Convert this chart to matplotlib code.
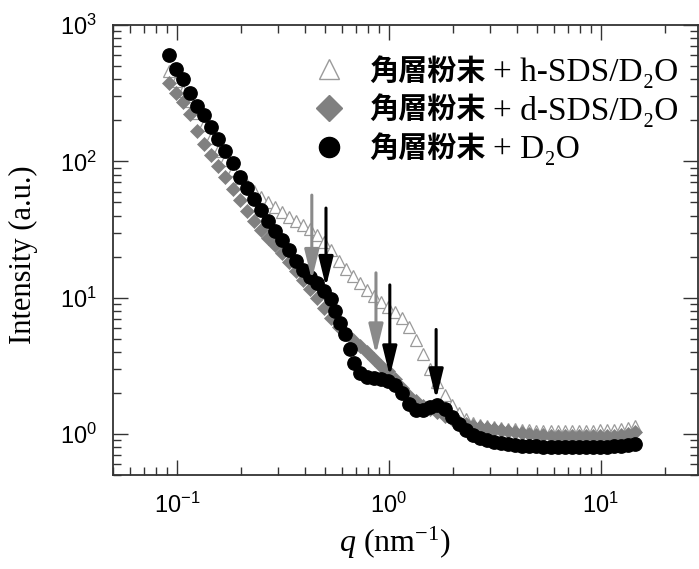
import matplotlib
matplotlib.use("Agg")
import matplotlib.pyplot as plt
from matplotlib.lines import Line2D
from matplotlib.ticker import LogLocator, FuncFormatter, NullFormatter
from matplotlib.font_manager import FontProperties
import numpy as np

plt.rcParams['mathtext.fontset'] = 'custom'
plt.rcParams['mathtext.rm'] = 'Liberation Serif'
plt.rcParams['mathtext.it'] = 'Liberation Serif:italic'
plt.rcParams['mathtext.sf'] = 'Liberation Sans'

# scattering vector q (nm^-1)
q = [0.0917, 0.0990, 0.1069, 0.1155, 0.1247, 0.1346, 0.1454, 0.1570, 0.1695, 0.1830,
     0.1976, 0.2134, 0.2304, 0.2488, 0.2686, 0.2900, 0.3132, 0.3382, 0.3651, 0.3943,
     0.4257, 0.4597, 0.4963, 0.5359, 0.5786, 0.6248, 0.6746, 0.7284, 0.7865, 0.8493,
     0.917, 0.990, 1.069, 1.155, 1.247, 1.346, 1.454, 1.570, 1.695, 1.830,
     1.976, 2.134, 2.304, 2.488, 2.686, 2.900, 3.132, 3.382, 3.651, 3.943,
     4.257, 4.597, 4.963, 5.359, 5.786, 6.248, 6.746, 7.284, 7.865, 8.493,
     9.17, 9.90, 10.69, 11.55, 12.47, 13.46, 14.54]

# stratum corneum powder + h-SDS/D2O
I_h = [462, 390, 330, 279, 228, 186, 147, 120, 102, 85.9,
       75.2, 66.8, 60.4, 54.6, 50.2, 46.2, 42.4, 39.0, 36.5, 34.1,
       31.9, 28.8, 25.6, 22.4, 18.6, 16.3, 14.5, 12.9, 11.4, 10.3,
       9.35, 8.60, 7.78, 7.03, 6.04, 4.86, 3.84, 2.98, 2.40, 1.93,
       1.63, 1.42, 1.29, 1.20, 1.16, 1.14, 1.12, 1.11, 1.09, 1.09,
       1.07, 1.07, 1.06, 1.06, 1.05, 1.05, 1.05, 1.05, 1.06, 1.06,
       1.06, 1.07, 1.07, 1.07, 1.09, 1.11, 1.14]

# stratum corneum powder + d-SDS/D2O
I_d = [377, 319, 274, 224, 168, 135, 111, 92.0, 76.4, 62.5,
       51.9, 43.2, 36.5, 31.4, 27.4, 24.4, 21.3, 18.3, 15.7, 13.5,
       11.6, 10.0, 8.45, 7.14, 6.04, 5.37, 4.86, 4.39, 3.97, 3.53,
       3.14, 2.88, 2.52, 2.17, 1.89, 1.74, 1.60, 1.52, 1.45, 1.35,
       1.29, 1.22, 1.18, 1.14, 1.12, 1.11, 1.09, 1.07, 1.05, 1.03,
       1.02, 1.00, 0.98, 0.98, 0.97, 0.97, 0.97, 0.97, 0.97, 0.97,
       0.97, 0.97, 0.97, 0.97, 0.98, 1.00, 1.03]

# stratum corneum powder + D2O (finer sampling across the steep drop)
q_w = [0.0917, 0.0990, 0.1069, 0.1155, 0.1247, 0.1346, 0.1454, 0.1570, 0.1695, 0.1830,
       0.1976, 0.2134, 0.2304, 0.2488, 0.2686, 0.2900, 0.3132, 0.3382, 0.3651, 0.3943,
       0.4257, 0.4597, 0.4963, 0.5359, 0.556, 0.587, 0.620, 0.655, 0.684,
       0.7284, 0.7865, 0.8493,
       0.917, 0.990, 1.069, 1.155, 1.247, 1.346, 1.454, 1.570, 1.695, 1.830,
       1.976, 2.134, 2.304, 2.488, 2.686, 2.900, 3.132, 3.382, 3.651, 3.943,
       4.257, 4.597, 4.963, 5.359, 5.786, 6.248, 6.746, 7.284, 7.865, 8.493,
       9.17, 9.90, 10.69, 11.55, 12.47, 13.46, 14.54]
I_w = [604, 477, 403, 319, 256, 220, 180, 145, 120, 96.7,
       76.4, 63.5, 52.8, 43.9, 36.5, 30.8, 26.5, 22.4, 18.6, 16.0,
       14.2, 12.7, 11.2, 9.83, 8.04, 6.57, 5.37, 4.17, 3.30,
       2.79, 2.61, 2.56,
       2.52, 2.44, 2.28, 1.99, 1.66, 1.50, 1.50, 1.57, 1.63, 1.52,
       1.33, 1.18, 1.07, 0.98, 0.935, 0.904, 0.874, 0.860, 0.845, 0.830,
       0.82, 0.82, 0.82, 0.80, 0.80, 0.80, 0.80, 0.80, 0.80, 0.80,
       0.80, 0.80, 0.80, 0.82, 0.82, 0.83, 0.845]

sample_name = "角層粉末"
solvents = ["+ h-SDS/D₂O", "+ d-SDS/D₂O", "+ D₂O"]

# peak markers: (q, top of arrow, tip of arrow)
gray_arrows = [(0.433, 56.5, 13.5), (0.869, 15.2, 3.84)]
black_arrows = [(0.505, 45.4, 12.0), (1.01, 12.4, 2.65), (1.67, 5.84, 1.80)]

GRAY = '#808080'
TRI_EDGE = '#9a9a9a'

fig = plt.figure(figsize=(6.99, 5.69), dpi=100)
ax = fig.add_axes([0.1617, 0.1652, 0.8369, 0.7909])

ax.plot(q, I_h, ls='none', marker='^', ms=8.2, mfc='white', mec=TRI_EDGE, mew=0.9, zorder=3)
ax.plot(q, I_d, ls='none', marker='D', ms=7.0, mfc=GRAY, mec=GRAY, mew=0.5, zorder=4)
ax.plot(q_w, I_w, ls='none', marker='o', ms=9.6, mfc='black', mec='black', zorder=5)

arrow_style = '-|>,head_length=0.9,head_width=0.22'
for qa, top, tip in gray_arrows:
    ax.annotate('', xy=(qa, tip), xytext=(qa, top),
                arrowprops=dict(arrowstyle=arrow_style, color='#8a8a8a', lw=2.2,
                                shrinkA=0, shrinkB=0, mutation_scale=20), zorder=6)
for qa, top, tip in black_arrows:
    ax.annotate('', xy=(qa, tip), xytext=(qa, top),
                arrowprops=dict(arrowstyle=arrow_style, color='black', lw=2.2,
                                shrinkA=0, shrinkB=0, mutation_scale=20), zorder=7)

ax.set_xscale('log')
ax.set_yscale('log')
ax.set_xlim(0.05, 28.7)
ax.set_ylim(0.5, 1000)

fmt = FuncFormatter(lambda v, pos: r'$\mathsf{10^{%d}}$' % int(round(np.log10(v))))
for axis in (ax.xaxis, ax.yaxis):
    axis.set_major_locator(LogLocator(base=10))
    axis.set_minor_locator(LogLocator(base=10, subs=np.arange(2, 10)))
    axis.set_major_formatter(fmt)
    axis.set_minor_formatter(NullFormatter())

ax.tick_params(which='both', direction='in', top=True, right=True, width=1.0, color='#333333')
ax.tick_params(which='major', length=10.8, labelsize=17)
ax.tick_params(which='minor', length=5.8)
ax.tick_params(axis='x', which='major', pad=13)
ax.tick_params(axis='y', which='major', pad=11.5)
for s in ax.spines.values():
    s.set_linewidth(1.3)
    s.set_color('#333333')

ax.set_ylabel('Intensity (a.u.)', fontfamily='Liberation Serif', fontsize=22)
ax.yaxis.set_label_coords(-0.128, 0.49)
ax.set_xlabel('$q$ (nm$^{-1}$)', fontfamily='Liberation Serif', fontsize=23)
ax.xaxis.set_label_coords(0.482, -0.11)

handles = [Line2D([], [], ls='none', marker='^', ms=15, mfc='white', mec=TRI_EDGE, mew=1.0),
           Line2D([], [], ls='none', marker='D', ms=13.5, mfc=GRAY, mec=GRAY),
           Line2D([], [], ls='none', marker='o', ms=14.5, mfc='black', mec='black')]
cjk = FontProperties(family=['Noto Sans CJK JP', 'DejaVu Sans'], size=21, weight='bold')
leg = ax.legend(handles, [sample_name] * 3, prop=cjk, loc='upper left',
                bbox_to_anchor=(0.344, 0.932), frameon=False, borderpad=0,
                borderaxespad=0, handlelength=1.0, handletextpad=0.9, labelspacing=0.3)

# serif continuation of each legend entry, drawn after the legend is laid out
for txt, sol in zip(leg.get_texts(), solvents):
    ax.annotate(sol, xy=(1, 0.5), xycoords=txt, xytext=(5, -1.5),
                textcoords='offset points', ha='left', va='center',
                fontfamily='Liberation Serif', fontsize=24, zorder=10)

fig.savefig('out.png', dpi=100)
